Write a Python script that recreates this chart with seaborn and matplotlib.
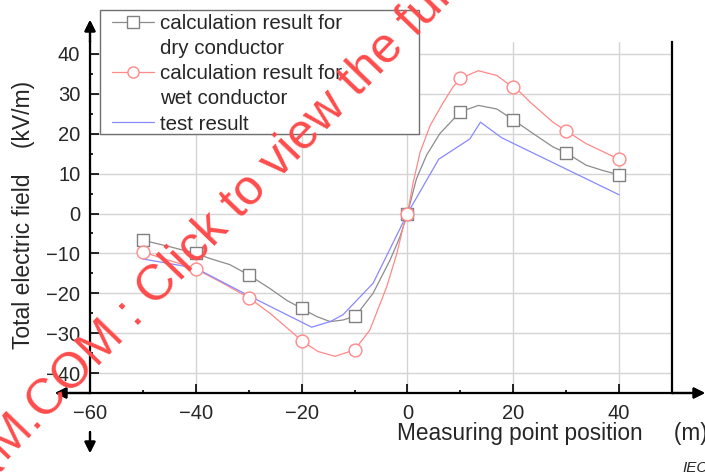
import numpy as np
import pandas as pd
import seaborn as sns
import matplotlib.pyplot as plt
from matplotlib.lines import Line2D
from matplotlib.patches import Rectangle

# Values ######################################################################

# measuring points (markers every 10 m)
pos = [-50, -40, -30, -20, -10, 0, 10, 20, 30, 40]
dry_pts = [-6.7, -10.0, -15.4, -23.8, -25.7, 0, 25.5, 23.5, 15.2, 9.7]
wet_pts = [-9.6, -13.9, -21.1, -31.9, -34.2, 0, 33.9, 31.6, 20.7, 13.6]

# the drawn (smoothed) calculation curves
dry_x = [-50, -45, -40, -37.3, -33.6, -30, -26, -22.9, -20, -17.2, -14.6, -12.2,
         -9.8, -6.5, -3.3, -1.4, 0, 1.7, 3.6, 6.1, 10, 13.4, 16.9, 20, 21.3,
         23.8, 27.5, 30, 33.8, 36.9, 40]
dry_y = [-6.7, -8.3, -10.0, -11.3, -12.8, -15.4, -18.8, -21.7, -23.8, -25.8,
         -27.1, -26.7, -25.7, -20.0, -11.7, -5.8, 0, 8.7, 14.6, 20.0, 25.5, 27.1,
         26.2, 23.5, 22.3, 20.0, 16.7, 15.2, 12.1, 10.8, 9.7]

wet_x = [-50, -46.2, -42.4, -40, -35.4, -30, -26, -21.6, -20, -16.9, -13.7, -10,
         -7.1, -3.9, -2.0, -0.8, 0, 1.1, 2.4, 4.3, 6.8, 8.6, 10, 13.4, 16.9, 20,
         21.3, 23.2, 27.5, 30, 33.8, 40]
wet_y = [-9.6, -11.3, -12.8, -13.9, -17.1, -21.1, -25.0, -30.0, -31.9, -34.6,
         -35.8, -34.2, -29.2, -18.3, -10.0, -3.3, 0, 7.9, 15.4, 22.1, 27.9, 31.7,
         33.9, 35.8, 34.6, 31.6, 30.4, 27.9, 22.9, 20.7, 17.5, 13.6]

# measured field
test_x = [-50, -40, -30, -18.1, -14.6, -12.2, -6.5, 0, 5.9, 11.8, 13.8, 17.8, 40]
test_y = [-11.4, -13.7, -20.6, -28.5, -27.1, -25.4, -17.5, 0, 13.6, 18.7, 22.9,
          19.0, 4.7]

x_ticks = [-60, -40, -20, 0, 20, 40]
y_ticks = [-40, -30, -20, -10, 0, 10, 20, 30, 40]

# Plot ########################################################################

sns.set_style("white")
plt.rcParams['font.family'] = ['Liberation Sans', 'DejaVu Sans']

W, H = 705, 473
fig = plt.figure(figsize=(W / 100, H / 100), dpi=100)
ax = fig.add_axes([90 / W, 1 - 393 / H, (672 - 90) / W, (393 - 42) / H])

c_dry, c_wet, c_test = '#8c8c8c', '#ff8888', '#8888ff'

sns.lineplot(x=dry_x, y=dry_y, color=c_dry, lw=0.9, sort=False, estimator=None, ax=ax)
sns.lineplot(x=wet_x, y=wet_y, color=c_wet, lw=0.9, sort=False, estimator=None, ax=ax)
sns.lineplot(x=test_x, y=test_y, color=c_test, lw=0.9, sort=False, estimator=None, ax=ax)
sns.scatterplot(x=pos, y=dry_pts, marker='s', s=80, color='white',
                edgecolor='#808080', linewidth=1, zorder=4, ax=ax)
sns.scatterplot(x=pos, y=wet_pts, marker='o', s=85, color='white',
                edgecolor=c_wet, linewidth=1, zorder=4, ax=ax)

ax.set_xlim(-60, 50)
ax.set_ylim(-45, 43)
ax.set_xticks(x_ticks)
ax.set_yticks(y_ticks)
ax.set_xticks(np.arange(-60, 50, 10), minor=True)
ax.set_yticks(np.arange(-45, 43, 5), minor=True)
ax.grid(True, which='major', color='#d4d4d4', lw=1)
ax.tick_params(which='both', direction='in', color='k', width=1.2,
               left=True, bottom=True, labelsize=14.5)
ax.tick_params(which='major', length=6.5)
ax.tick_params(which='minor', length=2.5)
ax.tick_params(axis='x', pad=8)
ax.tick_params(axis='y', pad=7)
ax.set_xlabel('')
ax.set_ylabel('')
for s in ['left', 'bottom', 'right']:
    ax.spines[s].set_color('k')
    ax.spines[s].set_linewidth(1.6)
ax.spines['top'].set_visible(False)

# axis arrows
arw = dict(arrowstyle='-|>', color='k', lw=1.6, mutation_scale=16,
           shrinkA=0, shrinkB=0)
for tail, tip in [((90, H - 42), (90, H - 20)),
                  ((90, H - 432), (90, H - 453)),
                  ((90, H - 393), (55, H - 393)),
                  ((672, H - 393), (705, H - 393))]:
    fig.add_artist(plt.annotate('', xy=tip, xytext=tail, xycoords='figure pixels',
                                textcoords='figure pixels', arrowprops=arw,
                                annotation_clip=False))

# axis labels
fig.text(24 / W, 1 - 215 / H, 'Total electric field    (kV/m)', rotation=90,
         ha='center', va='center', fontsize=16.5)
fig.text(397 / W, 1 - 440 / H, 'Measuring point position     (m)',
         ha='left', va='baseline', fontsize=16.3)
fig.text(682 / W, 1 - 472 / H, 'IEC', ha='left', va='baseline',
         fontsize=11, style='italic')

# legend with its own box
fig.add_artist(Rectangle((100 / W, 1 - 134 / H), 319 / W, 124 / H,
                         transform=fig.transFigure, facecolor='white',
                         edgecolor='#707070', lw=1, zorder=4))
blank = Line2D([], [], linestyle='none')
handles = [
    Line2D([], [], color=c_dry, lw=0.9, marker='s', ms=8, mfc='white', mec='#808080'),
    blank,
    Line2D([], [], color=c_wet, lw=0.9, marker='o', ms=8, mfc='white', mec=c_wet),
    blank,
    Line2D([], [], color=c_test, lw=0.9),
]
labels = ['calculation result for', 'dry conductor',
          'calculation result for', 'wet conductor', 'test result']
leg = fig.legend(handles, labels, loc='upper left',
                 bbox_to_anchor=(112 / W, 1 - 14 / H), frameon=False,
                 borderpad=0, borderaxespad=0, handlelength=2.05,
                 handletextpad=0.3, labelspacing=0.3, fontsize=14.8)
leg.set_zorder(5)

# watermark
wm = dict(rotation=46, rotation_mode='anchor', va='baseline', fontsize=36,
          color='#ff4b4b', zorder=10)
fig.text(6 / W, 1 - 462 / H, 'M.COM : Click to view the full PDF', ha='left', **wm)
fig.text(6 / W, 1 - 462 / H, 'IECNOR', ha='right', **wm)

fig.savefig('out.png', dpi=100)
